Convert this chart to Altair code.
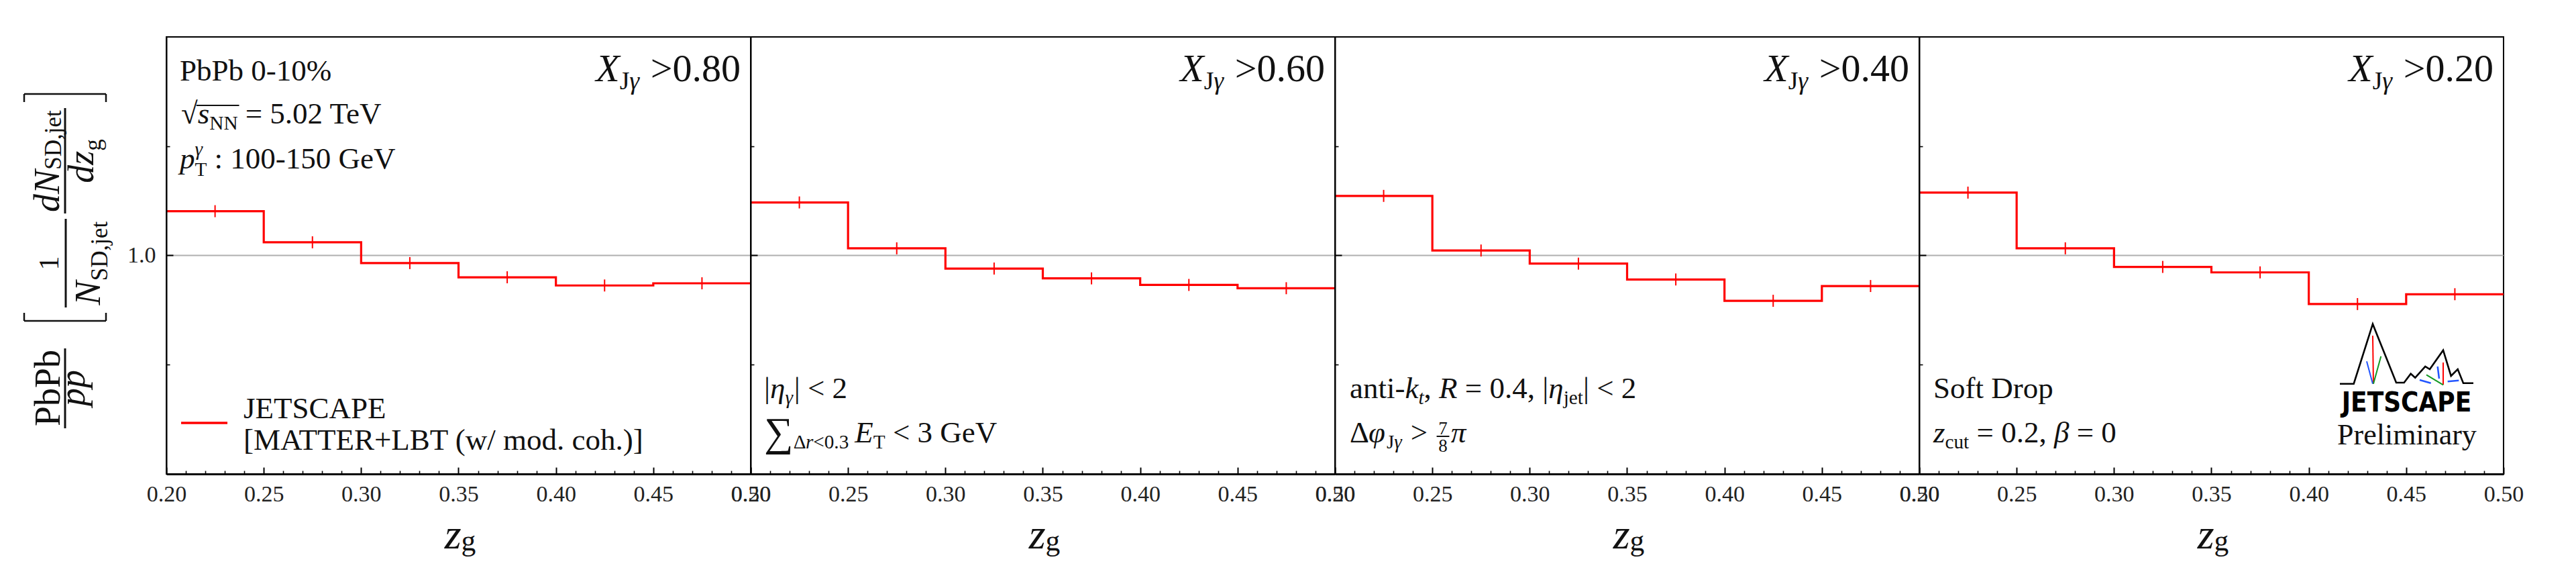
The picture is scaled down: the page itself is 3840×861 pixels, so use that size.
import altair as alt
import pandas as pd

# ------------------------------------------------------------------ data
BIN_EDGES = [0.20, 0.25, 0.30, 0.35, 0.40, 0.45, 0.50]
BIN_CENTERS = [0.225, 0.275, 0.325, 0.375, 0.425, 0.475]
XJG_CUTS = ["0.80", "0.60", "0.40", "0.20"]

RATIO_XJG_080 = [1.081, 1.024, 0.986, 0.960, 0.945, 0.949]
RATIO_XJG_060 = [1.097, 1.013, 0.976, 0.958, 0.946, 0.940]
RATIO_XJG_040 = [1.109, 1.009, 0.985, 0.956, 0.917, 0.944]
RATIO_XJG_020 = [1.115, 1.013, 0.979, 0.969, 0.911, 0.929]

ERR_XJG_080 = [0.011, 0.011, 0.011, 0.011, 0.011, 0.011]
ERR_XJG_060 = [0.011, 0.011, 0.011, 0.011, 0.011, 0.011]
ERR_XJG_040 = [0.011, 0.011, 0.011, 0.011, 0.011, 0.011]
ERR_XJG_020 = [0.011, 0.011, 0.011, 0.011, 0.011, 0.011]

X_MAJOR_TICKS = [0.20, 0.25, 0.30, 0.35, 0.40, 0.45, 0.50]
X_MINOR_TICKS = [0.21, 0.22, 0.23, 0.24, 0.26, 0.27, 0.28, 0.29,
                 0.31, 0.32, 0.33, 0.34, 0.36, 0.37, 0.38, 0.39,
                 0.41, 0.42, 0.43, 0.44, 0.46, 0.47, 0.48, 0.49]
Y_TICKS = [0.8, 1.0, 1.2]
Y_LABELED_TICK = 1.0

RATIOS = [RATIO_XJG_080, RATIO_XJG_060, RATIO_XJG_040, RATIO_XJG_020]
ERRS = [ERR_XJG_080, ERR_XJG_060, ERR_XJG_040, ERR_XJG_020]

# ------------------------------------------------------------------ style
W, H = 871, 651
FONT = "Liberation Serif"
RED = "#ff0000"
INK = "#111111"
XSCALE = alt.Scale(domain=[0.2, 0.5], nice=False, zero=False)
YSCALE = alt.Scale(domain=[0.6, 1.4], nice=False, zero=False)

# ------------------------------------------------------------------ small typesetter for annotations
WN = {' ': .25, '!': .333, '%': .833, '(': .333, ')': .333, '+': .564, ',': .25, '-': .333,
      '.': .25, '/': .278, ':': .278, '<': .564, '=': .564, '>': .564, '[': .333, ']': .333,
      '|': .2, 'A': .722, 'B': .667, 'C': .667, 'D': .722, 'E': .611, 'G': .722, 'J': .389,
      'L': .611, 'M': .889, 'N': .722, 'P': .556, 'R': .667, 'S': .556, 'T': .611, 'V': .722,
      'X': .722, 'a': .444, 'b': .5, 'c': .444, 'd': .5, 'e': .444, 'f': .333, 'g': .5,
      'h': .5, 'i': .278, 'j': .278, 'k': .5, 'l': .278, 'm': .778, 'n': .5, 'o': .5, 'p': .5,
      'r': .333, 's': .389, 't': .278, 'u': .5, 'v': .5, 'w': .722, 'y': .5, 'z': .444,
      'γ': .45, 'η': .5, 'φ': .6, 'Δ': .62, 'β': .5, 'π': .55, '∑': .72, '√': .55}
WI = {'a': .5, 'd': .5, 'k': .444, 'p': .5, 'r': .389, 's': .389, 't': .278, 'z': .389,
      'E': .611, 'N': .667, 'R': .611, 'X': .611}


def tw(s, italic=False):
    tot = 0.0
    for ch in s:
        if italic and ch in WI:
            tot += WI[ch]
        else:
            tot += WN.get(ch, 0.5)
    return tot


KINDS = {'n': (1.0, 0.0, False), 'i': (1.0, 0.0, True), 'big': (1.35, 0.1, False),
         'sub': (0.65, 0.2, False), 'subi': (0.65, 0.2, True),
         'subn': (0.65, 0.05, False), 'subg': (0.68, 0.05, False)}


def typeset(segs, size):
    u = 0.0
    pcs, bars, ol = [], [], []
    for seg in segs:
        k = seg[0]
        if k == 'sp':
            u += seg[1] * size
            continue
        if k == 'subsup':
            fs = 0.65 * size
            pcs.append((u, 0.25 * size, seg[1], fs, False))
            pcs.append((u, -0.42 * size, seg[2], fs, True))
            u += max(tw(seg[1]), tw(seg[2], True)) * fs
            continue
        if k == 'frac':
            fs = 0.6 * size
            wn, wd = tw(seg[1]) * fs, tw(seg[2]) * fs
            wb = max(wn, wd) + 0.12 * size
            u0 = u + 0.05 * size
            pcs.append((u0 + (wb - wn) / 2, -0.27 * size, seg[1], fs, False))
            pcs.append((u0 + (wb - wd) / 2, 0.30 * size, seg[2], fs, False))
            bars.append((u0, u0 + wb, -0.2 * size))
            u = u0 + wb + 0.05 * size
            continue
        sc, dv, it = KINDS[k]
        fs = sc * size
        txt = seg[1]
        lead = len(txt) - len(txt.lstrip(' '))
        u += lead * WN[' '] * fs          # leading blanks become an offset
        core = txt.strip(' ')
        w = tw(core, it) * fs
        pcs.append((u, dv * size, core, fs, it))
        if len(seg) > 2 and seg[2]:
            ol.append((u, u + w))
        trail = len(txt) - len(txt.rstrip(' '))
        u += w + trail * WN[' '] * fs
    if ol:
        bars.append((min(a for a, b in ol) - 2, max(b for a, b in ol) + 2, -0.6 * size))
    return pcs, bars, u


TXT, RUL = [], []


def emit(panel, x0, y0, size, segs, align='left', rot=False):
    pcs, bars, width = typeset(segs, size)
    off = {'left': 0.0, 'center': width / 2.0, 'right': width}[align]
    for (u, v, t, fs, it) in pcs:
        uu = u - off
        if rot:
            x, y = x0 + v, y0 - uu
        else:
            x, y = x0 + uu, y0 + v
        TXT.append(dict(panel=panel, x=x, y=y, text=t, size=fs, italic=it, rot=rot))
    for (u0, u1, v) in bars:
        if rot:
            RUL.append(dict(panel=panel, x=x0 + v, x2=x0 + v, y=y0 - (u0 - off),
                            y2=y0 - (u1 - off), w=2.2, col=INK))
        else:
            RUL.append(dict(panel=panel, x=x0 + u0 - off, x2=x0 + u1 - off, y=y0 + v,
                            y2=y0 + v, w=2.0, col=INK))


def rule(panel, x, x2, y, y2, w=2.5, col=INK):
    RUL.append(dict(panel=panel, x=x, x2=x2, y=y, y2=y2, w=w, col=col))


# panel 1 : header, legend, rotated y title
emit(0, 20, 65, 45, [('n', 'PbPb 0-10%')])
emit(0, 22, 129, 45, [('n', '√'), ('i', 's', True), ('sub', 'NN', True), ('n', ' = 5.02 TeV')])
emit(0, 20, 196, 45, [('i', 'p'), ('subsup', 'T', 'γ'), ('n', ' : 100-150 GeV')])
emit(0, 115, 568, 45, [('n', 'JETSCAPE')])
emit(0, 115, 615, 45, [('n', '[MATTER+LBT (w/ mod. coh.)]')])
rule(0, 22, 91, 575, 575, 3.5, RED)

emit(0, -159, 523, 54, [('n', 'PbPb')], 'center', True)
emit(0, -122, 523, 54, [('i', 'pp')], 'center', True)
emit(0, -161, 337, 42, [('n', '1')], 'center', True)
emit(0, -99, 337, 54, [('i', 'N'), ('sub', 'SD,jet')], 'center', True)
emit(0, -160, 185, 54, [('i', 'dN'), ('subn', 'SD,jet')], 'center', True)
emit(0, -109, 185, 54, [('i', 'dz'), ('sub', 'g')], 'center', True)
rule(0, -151, -151, 464, 583, 3)
rule(0, -150, -150, 271, 403, 3)
rule(0, -151, -151, 106, 263, 3)
rule(0, -212, -90, 423, 423)
rule(0, -212, -212, 423, 411)
rule(0, -90, -90, 423, 411)
rule(0, -212, -90, 85, 85)
rule(0, -212, -212, 85, 97)
rule(0, -90, -90, 85, 97)

# panel 2
emit(1, 20, 538, 45, [('n', '|'), ('i', 'η'), ('subi', 'γ'), ('n', '| < 2')])
emit(1, 20, 604, 45, [('big', '∑'), ('sub', 'Δ'), ('subi', 'r'), ('sub', '<0.3'), ('sp', 0.2),
                      ('i', 'E'), ('sub', 'T'), ('n', ' < 3 GeV')])
# panel 3
emit(2, 22, 538, 45, [('n', 'anti-'), ('i', 'k'), ('subi', 't'), ('n', ', '), ('i', 'R'),
                      ('n', ' = 0.4, |'), ('i', 'η'), ('sub', 'jet'), ('n', '| < 2')])
emit(2, 22, 604, 45, [('n', 'Δ'), ('i', 'φ'), ('sub', 'J'), ('subi', 'γ'), ('n', ' > '),
                      ('frac', '7', '8'), ('i', 'π')])
# panel 4
emit(3, 21, 538, 45, [('n', 'Soft Drop')])
emit(3, 21, 604, 45, [('i', 'z'), ('sub', 'cut'), ('n', ' = 0.2, '), ('i', 'β'), ('n', ' = 0')])
emit(3, 727, 607, 44, [('n', 'Preliminary')], 'center')

for p, cut in enumerate(XJG_CUTS):
    emit(p, 856, 66, 58, [('i', 'X'), ('sub', 'J'), ('subi', 'γ'), ('n', ' >' + cut)], 'right')
    emit(p, 438, 762, 64, [('i', 'z'), ('subg', 'g')], 'center')

# JETSCAPE logo outline (panel-4 pixel frame)
LOGO = [
    ('m', 'black', 2.6, [(627, 516.7), (647.7, 516.7), (676, 427.7), (711, 515), (722.7, 515),
                         (732.7, 501.7), (739.3, 507.7), (754.3, 491), (761, 495), (781, 466.7),
                         (792.7, 505), (802.7, 495), (811, 515.7), (826, 515.7)]),
    ('r1', RED, 2.0, [(676, 445), (677, 516.7)]),
    ('b1', '#2255ff', 2.0, [(667, 483.3), (676, 516.7)]),
    ('g1', '#119922', 2.0, [(688.3, 475.7), (677, 516.7)]),
    ('r2', RED, 2.0, [(781, 485), (781, 518.3)]),
    ('g2', '#119922', 2.0, [(756, 503.3), (781, 518.3)]),
    ('b2', '#2255ff', 2.5, [(746, 511), (762.7, 515.7)]),
    ('b3', '#2255ff', 2.5, [(787.7, 513.3), (804.3, 511.7)]),
    ('b4', '#2255ff', 2.5, [(772.7, 491), (775, 509)]),
]

txt_df = pd.DataFrame(TXT)
rul_df = pd.DataFrame(RUL)


def x_axis():
    major = "[" + ",".join(str(v) for v in X_MAJOR_TICKS) + "]"
    is_major = "indexof(" + major + ", datum.value) >= 0"
    return alt.Axis(values=sorted(X_MAJOR_TICKS + X_MINOR_TICKS),
                    tickSize={"expr": is_major + " ? -10 : -5"},
                    tickWidth={"expr": is_major + " ? 2 : 1.6"},
                    labelExpr=is_major + " ? format(datum.value, '.2f') : ''",
                    labelPadding=23, labelFlush=False, labelOverlap=False, labelBound=False,
                    title=None, grid=False, domainColor='black', domainWidth=3,
                    tickColor='black', zindex=1)


def y_axis(show_labels):
    return alt.Axis(values=Y_TICKS,
                    tickSize={"expr": "datum.value == %s ? -10 : -5" % Y_LABELED_TICK},
                    tickWidth={"expr": "datum.value == %s ? 2 : 1.6" % Y_LABELED_TICK},
                    labels=show_labels,
                    labelExpr="datum.value == %s ? format(datum.value, '.1f') : ''" % Y_LABELED_TICK,
                    labelPadding=26, labelOverlap=False, title=None, grid=False,
                    domainColor='black', domainWidth=2, tickColor='black', zindex=1)


def panel(i):
    xa, ya = x_axis(), y_axis(i == 0)
    vals, errs = RATIOS[i], ERRS[i]
    step_df = pd.DataFrame({'zg': BIN_EDGES, 'ratio': vals + [vals[-1]]})
    err_df = pd.DataFrame({'zg': BIN_CENTERS,
                           'lo': [v - e for v, e in zip(vals, errs)],
                           'hi': [v + e for v, e in zip(vals, errs)]})
    ref_df = pd.DataFrame({'ratio': [1.0]})

    layers = [
        alt.Chart(ref_df).mark_rule(color='#b0b0b0', strokeWidth=2).encode(
            y=alt.Y('ratio:Q', scale=YSCALE, axis=ya)),
        alt.Chart(step_df).mark_line(interpolate='step-after', color=RED, strokeWidth=3.2).encode(
            x=alt.X('zg:Q', scale=XSCALE, axis=xa),
            y=alt.Y('ratio:Q', scale=YSCALE, axis=ya)),
        alt.Chart(err_df).mark_rule(color=RED, strokeWidth=2).encode(
            x=alt.X('zg:Q', scale=XSCALE, axis=xa),
            y=alt.Y('lo:Q', scale=YSCALE, axis=ya), y2='hi:Q'),
    ]

    tdf = txt_df[txt_df.panel == i]
    for rot in (False, True):
        for it in (False, True):
            sub = tdf[(tdf.rot == rot) & (tdf.italic == it)][['x', 'y', 'text', 'size']]
            if len(sub) == 0:
                continue
            layers.append(alt.Chart(sub).mark_text(
                align='left', baseline='alphabetic', font=FONT, color=INK,
                fontStyle='italic' if it else 'normal', angle=270 if rot else 0).encode(
                x=alt.X('x:Q', scale=None), y=alt.Y('y:Q', scale=None),
                size=alt.Size('size:Q', scale=None), text='text:N'))

    rdf = rul_df[rul_df.panel == i][['x', 'x2', 'y', 'y2', 'w', 'col']]
    if len(rdf):
        layers.append(alt.Chart(rdf).mark_rule(strokeCap='butt').encode(
            x=alt.X('x:Q', scale=None), x2='x2:Q', y=alt.Y('y:Q', scale=None), y2='y2:Q',
            color=alt.Color('col:N', scale=None),
            strokeWidth=alt.StrokeWidth('w:Q', scale=None)))

    if i == 3:
        rows = []
        for name, col, w, pts in LOGO:
            for k, (px, py) in enumerate(pts):
                rows.append(dict(seg=name, ord=k, x=px, y=py, col=col, w=w))
        layers.append(alt.Chart(pd.DataFrame(rows)).mark_line(strokeJoin='miter').encode(
            x=alt.X('x:Q', scale=None), y=alt.Y('y:Q', scale=None), detail='seg:N',
            order='ord:Q', color=alt.Color('col:N', scale=None),
            strokeWidth=alt.StrokeWidth('w:Q', scale=None)))
        layers.append(alt.Chart(pd.DataFrame({'t': ['JETSCAPE']})).mark_text(
            font="Liberation Sans Narrow, DejaVu Sans Condensed, DejaVu Sans",
            fontWeight='bold', fontSize=40, align='center', baseline='alphabetic',
            color='black').encode(x=alt.value(726.5), y=alt.value(558), text='t:N'))

    return alt.layer(*layers).properties(width=W, height=H)


chart = alt.hconcat(*[panel(i) for i in range(4)], spacing=0, bounds='flush').properties(
    padding={'left': 33, 'top': 54, 'right': 10, 'bottom': 5},
    background='white'
).configure_view(stroke='black', strokeWidth=2).configure_axis(
    labelFont=FONT, labelFontSize=34, labelColor='#222222', grid=False)

chart.save("out.html", embed_options={"renderer": "svg", "actions": False})
